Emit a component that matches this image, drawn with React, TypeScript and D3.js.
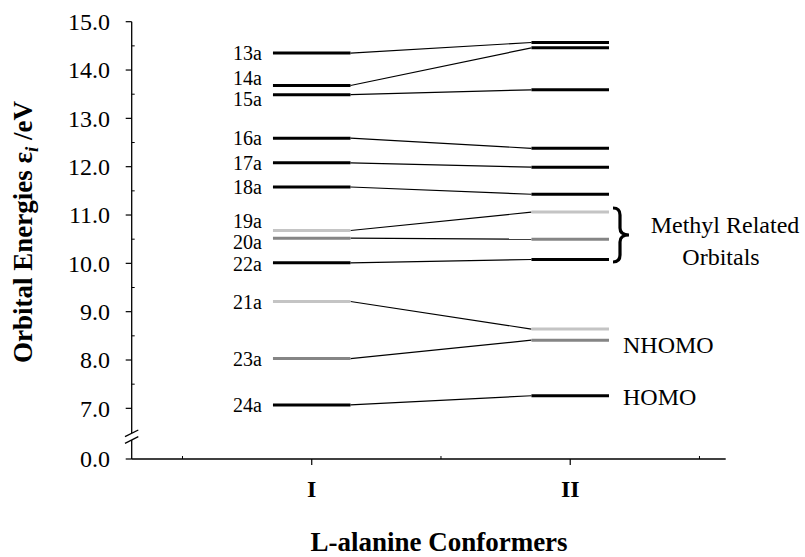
import React from "react";
import * as d3 from "d3";

// orbital energies of the two L-alanine conformers (eV)
const conformers = ["I", "II"];
const orbitals = ["13a", "14a", "15a", "16a", "17a", "18a", "19a", "20a", "22a", "21a", "23a", "24a"];
const energiesI = [14.35, 13.68, 13.49, 12.59, 12.08, 11.58, 10.68, 10.52, 10.01, 9.21, 8.03, 7.07];
const energiesII = [14.57, 14.46, 13.59, 12.38, 11.99, 11.43, 11.06, 10.5, 10.08, 8.64, 8.41, 7.26];
const shade = ["dark", "dark", "dark", "dark", "dark", "dark", "light", "mid", "dark", "light", "mid", "dark"];

const yMajor = [0, 7, 8, 9, 10, 11, 12, 13, 14, 15];
const yMinor = [7.5, 8.5, 9.5, 10.5, 11.5, 12.5, 13.5, 14.5];
const xMinor = [0, 2, 4];

// label nudges where two levels sit too close together
const labelNudge: Record<string, number> = { "14a": -7, "15a": 4, "19a": -9, "20a": 4, "22a": 1 };
const shadeColor: Record<string, string> = { dark: "#000", mid: "#858585", light: "#c4c4c4" };

const font = "'Liberation Serif', 'Times New Roman', serif";

export default function App() {
  const width = 805;
  const height = 557;

  // broken axis: 0 .. 6.5 squeezed into a small gap at the bottom
  const y = d3.scaleLinear().domain([0, 6.5, 15]).range([459, 432.5, 21.7]);
  const x = d3.scaleLinear().domain([-0.393, 4.203]).range([131.7, 725.7]);
  const fmt = d3.format(".1f");

  const half = 0.3; // half width of a level bar, in x units
  const posI = 1;
  const posII = 3;

  return (
    <svg width={width} height={height} style={{ position: "absolute", left: 0, top: 0, background: "#fff" }} fontFamily={font}>
      {/* y axis with break */}
      <line x1={x(-0.393)} x2={x(-0.393)} y1={y(0)} y2={440} stroke="#000" strokeWidth={1.3} />
      <line x1={x(-0.393)} x2={x(-0.393)} y1={433} y2={y(15)} stroke="#000" strokeWidth={1.3} />
      <line x1={125} y1={436.7} x2={138.3} y2={430} stroke="#000" strokeWidth={1.3} />
      <line x1={125} y1={443.3} x2={138.3} y2={436.7} stroke="#000" strokeWidth={1.3} />
      {yMajor.map((v) => (
        <g key={"ym" + v}>
          <line x1={x(-0.393) - 6} x2={x(-0.393)} y1={y(v)} y2={y(v)} stroke="#000" strokeWidth={1.2} />
          <text x={110} y={y(v)} dy="0.35em" textAnchor="end" fontSize={24}>
            {fmt(v)}
          </text>
        </g>
      ))}
      {yMinor.map((v) => (
        <line key={"yn" + v} x1={x(-0.393)} x2={x(-0.393) + 3} y1={y(v)} y2={y(v)} stroke="#000" strokeWidth={1} />
      ))}

      {/* x axis */}
      <line x1={x(-0.393)} x2={x(4.203)} y1={y(0)} y2={y(0)} stroke="#000" strokeWidth={1.3} />
      {xMinor.map((v) => (
        <line key={"xn" + v} x1={x(v)} x2={x(v)} y1={y(0)} y2={y(0) - 3} stroke="#000" strokeWidth={1} />
      ))}
      {conformers.map((c, i) => {
        const px = x(i === 0 ? posI : posII);
        return (
          <g key={c}>
            <line x1={px} x2={px} y1={y(0)} y2={y(0) + 6} stroke="#000" strokeWidth={1.2} />
            <text x={px} y={497} textAnchor="middle" fontSize={24} fontWeight="bold">
              {c}
            </text>
          </g>
        );
      })}
      <text x={439} y={551} textAnchor="middle" fontSize={27} fontWeight="bold">
        L-alanine Conformers
      </text>

      {/* y title */}
      <text transform="translate(32,232) rotate(-90)" textAnchor="middle" fontSize={27} fontWeight="bold">
        Orbital Energies ε
        <tspan fontStyle="italic" fontSize={19} dy={6}>i</tspan>
        <tspan dy={-6}> /eV</tspan>
      </text>

      {/* connectors between conformers */}
      {orbitals.map((o, i) => (
        <line
          key={"c" + o}
          x1={x(posI + half)}
          y1={y(energiesI[i])}
          x2={x(posII - half)}
          y2={y(energiesII[i])}
          stroke="#000"
          strokeWidth={1.2}
        />
      ))}

      {/* energy levels */}
      {orbitals.map((o, i) => (
        <g key={"l" + o}>
          <line
            x1={x(posI - half)}
            x2={x(posI + half)}
            y1={y(energiesI[i])}
            y2={y(energiesI[i])}
            stroke={shadeColor[shade[i]]}
            strokeWidth={3}
          />
          <line
            x1={x(posII - half)}
            x2={x(posII + half)}
            y1={y(energiesII[i])}
            y2={y(energiesII[i])}
            stroke={shadeColor[shade[i]]}
            strokeWidth={3}
          />
          <text x={262} y={y(energiesI[i]) + (labelNudge[o] || 0)} dy="0.35em" textAnchor="end" fontSize={20}>
            {o}
          </text>
        </g>
      ))}

      {/* annotations */}
      <path
        d="M613,208 Q620,208 620,215 L620,228 Q620,235 629,235 Q620,235 620,242 L620,255 Q620,262 613,262"
        fill="none"
        stroke="#000"
        strokeWidth={3.2}
      />
      <text x={725} y={233} textAnchor="middle" fontSize={24}>
        Methyl Related
      </text>
      <text x={721} y={265} textAnchor="middle" fontSize={24}>
        Orbitals
      </text>
      <text x={623} y={353} fontSize={24}>
        NHOMO
      </text>
      <text x={623} y={405} fontSize={24}>
        HOMO
      </text>
    </svg>
  );
}
